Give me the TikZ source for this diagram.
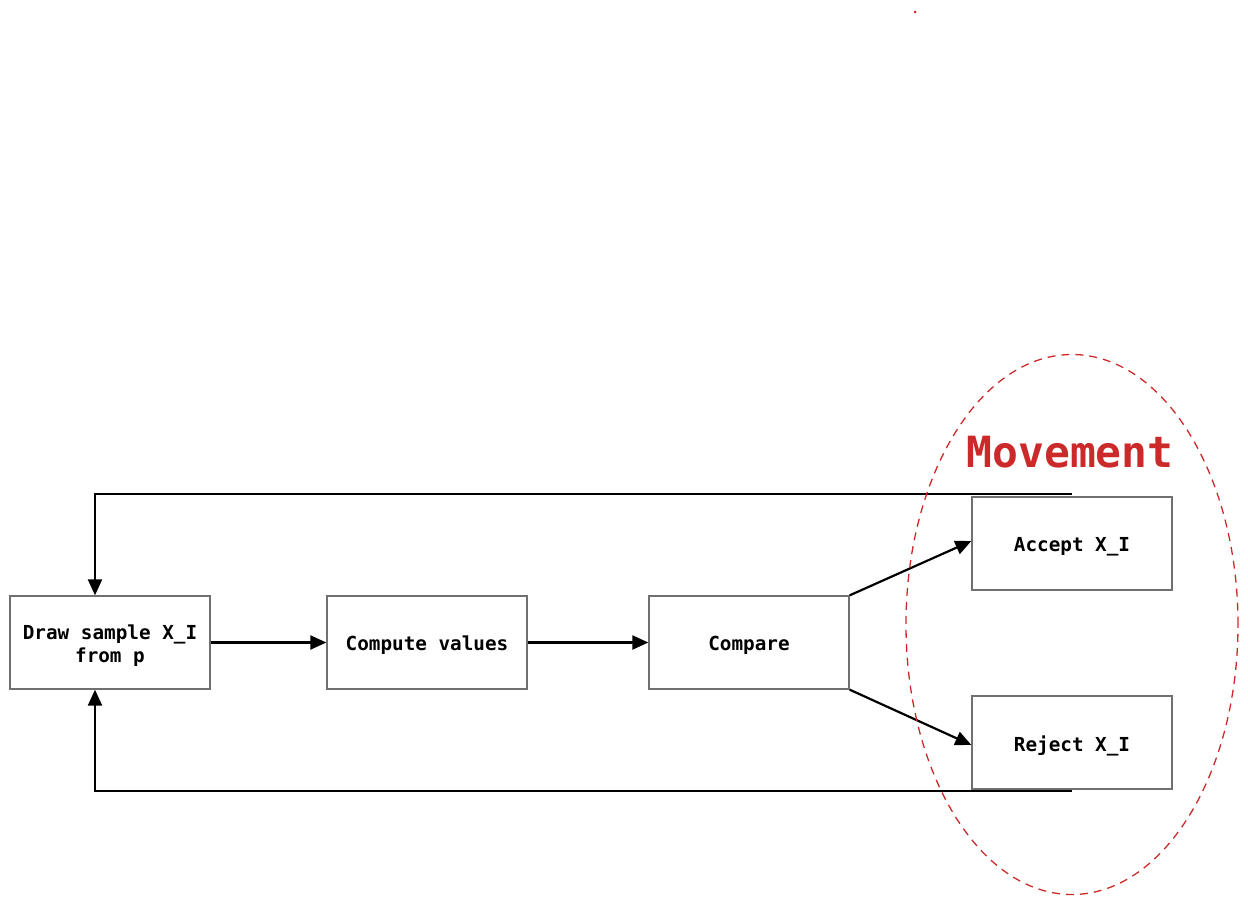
\documentclass[tikz,border=0pt]{standalone}
\usepackage{fontspec}
\setmonofont{DejaVu Sans Mono}
\usetikzlibrary{arrows.meta}
\definecolor{boxgray}{HTML}{707070}
\definecolor{movred}{HTML}{CC2A2A}
\begin{document}
\begin{tikzpicture}[x=1pt,y=-1pt,
  stepbox/.style={draw=boxgray,line width=1.3pt,minimum width=200pt,minimum height=93pt,inner sep=0pt,fill=white},
  lbl/.style={font=\ttfamily\bfseries\fontsize{19.3}{23.5}\selectfont,align=center,inner sep=0pt},
  conn/.style={draw=black,line width=2.2pt,-{Triangle[length=16pt,width=14pt]}}]
\useasboundingbox (0,0) rectangle (1248,906);
\fill[movred] (915,12) circle (1.5pt);
\node[stepbox] (draw) at (110,642.5) {};
\node[stepbox] (comp) at (427,642.5) {};
\node[stepbox] (cmp) at (749,642.5) {};
\node[stepbox] (acc) at (1072,543.5) {};
\node[stepbox] (rej) at (1072,742.5) {};
\node[lbl] (tdraw) at ([yshift=-3pt]draw.center) {Draw sample X\_I\\from p};
\node[lbl] (tcomp) at ([yshift=-3pt]comp.center) {Compute values};
\node[lbl] (tcmp) at ([yshift=-3pt]cmp.center) {Compare};
\node[lbl] (tacc) at ([yshift=-3pt]acc.center) {Accept X\_I};
\node[lbl] (trej) at ([yshift=-3pt]rej.center) {Reject X\_I};
\coordinate (dtop) at ([xshift=-15pt]draw.north);
\coordinate (dbot) at ([xshift=-15pt]draw.south);
\draw[conn] (draw.east) -- (comp.west);
\draw[conn] (comp.east) -- (cmp.west);
\draw[conn] (cmp.north east) -- (acc.west |- 0,541);
\draw[conn] (cmp.south east) -- (rej.west |- 0,745);
\draw[conn] ([yshift=2pt]acc.north) -| (dtop);
\draw[conn] ([yshift=-1pt]rej.south) -| (dbot);
\draw[movred,line width=1.3pt,dash pattern=on 8pt off 6pt] (1072,624.5) ellipse [x radius=166pt,y radius=270pt];
\node[text=movred,font=\ttfamily\bfseries\fontsize{43}{50}\selectfont,inner sep=0pt,anchor=base] (mov) at (1070,467) {Movement};
\end{tikzpicture}
\end{document}
